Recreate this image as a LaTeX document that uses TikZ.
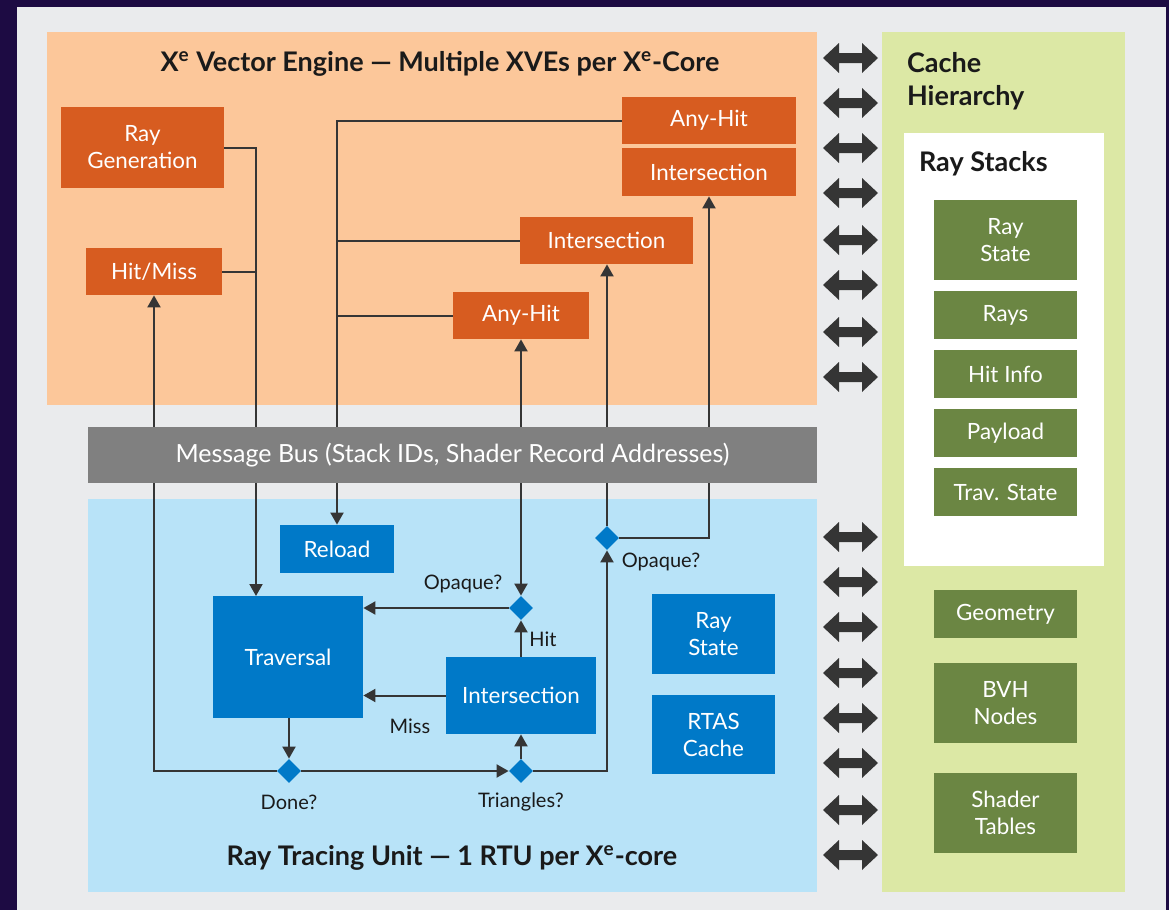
\documentclass[tikz,border=0pt]{standalone}
\usepackage{fontspec}
\setmainfont{Lato}
\usepackage{tikz}
\usetikzlibrary{arrows.meta,shapes.geometric}
\definecolor{Frame}{HTML}{1D0B43}
\definecolor{Canvas}{HTML}{EAEBED}
\definecolor{Ink}{HTML}{1A1A1A}
\definecolor{Wire}{HTML}{353535}
\definecolor{OrangeSoft}{HTML}{FCC79A}
\definecolor{Orange}{HTML}{D75C20}
\definecolor{BlueSoft}{HTML}{B8E3F8}
\definecolor{Blue}{HTML}{0079C8}
\definecolor{GreenSoft}{HTML}{DCE8A5}
\definecolor{Green}{HTML}{6B8643}
\definecolor{Bus}{HTML}{808080}
\tikzset{
  box/.style={inner sep=2pt,align=center,text=white,font=\fontsize{11.2}{13.5}\selectfont},
  boxorange/.style={box,fill=Orange},
  boxblue/.style={box,fill=Blue},
  boxgreen/.style={box,fill=Green,minimum width=71.5pt},
  decision/.style={diamond,fill=Blue,inner sep=0pt,minimum size=12pt},
  wire/.style={draw=Wire,line width=1pt},
  arrow/.style={wire,-{Triangle[length=6pt,width=6.5pt]}},
  twoway/.style={wire,{Triangle[length=6pt,width=6.5pt]}-{Triangle[length=6pt,width=6.5pt]}},
  note/.style={text=Ink,font=\fontsize{10}{12}\selectfont},
  heading/.style={text=Ink,font=\fontsize{13.5}{16.5}\selectfont\bfseries},
  bigarrow/.style={fill=Wire}
}

\begin{document}
\begin{tikzpicture}[x=0.5pt,y=-0.5pt]
  \useasboundingbox (0,0) rectangle (1169,910);
  \fill[Frame] (0,0) rectangle (1169,910);
  \fill[Canvas] (17,7) rectangle (1166,910);
  % panels
  \fill[OrangeSoft] (47,32) rectangle (817,405);
  \fill[BlueSoft] (88,499) rectangle (817,892);
  \fill[GreenSoft] (882,32) rectangle (1125,892);
  \fill[white] (904,133) rectangle (1104,566);
  \node[heading] (xveTitle) at (440,64) {X\textsuperscript{e} Vector Engine — Multiple XVEs per X\textsuperscript{e}-Core};
  \node[heading] (rtuTitle) at (452,858) {Ray Tracing Unit — 1 RTU per X\textsuperscript{e}-core};
  \node[heading,anchor=west,align=left] (cacheTitle) at (900,81) {Cache\\Hierarchy};
  \node[heading,anchor=west] (stackTitle) at (912,164) {Ray Stacks};

  % vector engine shaders
  \node[boxorange,minimum width=81.5pt,minimum height=40.5pt] (rayGen) at (142.5,147.5) {Ray\\Generation};
  \node[boxorange,minimum width=68pt,minimum height=23.5pt] (hitMiss) at (154,271.5) {Hit/Miss};
  \node[boxorange,minimum width=87pt,minimum height=23.5pt] (anyHitA) at (709,120.5) {Any-Hit};
  \node[boxorange,minimum width=87pt,minimum height=24pt] (isectA) at (709,172) {Intersection};
  \node[boxorange,minimum width=86.5pt,minimum height=23.5pt] (isectB) at (606.5,240.5) {Intersection};
  \node[boxorange,minimum width=68pt,minimum height=23.5pt] (anyHitB) at (521,315.5) {Any-Hit};

  % ray tracing unit
  \node[boxblue,minimum width=57pt,minimum height=24pt] (reload) at (337,549) {Reload};
  \node[boxblue,minimum width=75pt,minimum height=61pt] (trav) at (288,657) {Traversal};
  \node[boxblue,minimum width=75pt,minimum height=38.5pt] (isectC) at (521,695.5) {Intersection};
  \node[boxblue,minimum width=61.5pt,minimum height=40pt] (rayState) at (713.5,634) {Ray\\State};
  \node[boxblue,minimum width=61.5pt,minimum height=39.5pt] (rtas) at (713.5,734.5) {RTAS\\Cache};
  \node[decision] (done) at (289,771) {};
  \node[decision] (tri) at (521,771) {};
  \node[decision] (opaqueA) at (521,608) {};
  \node[decision] (opaqueB) at (607,538) {};
  \node[note] (doneTxt) at (289,802) {Done?};
  \node[note] (triTxt) at (521,802) {Triangles?};
  \node[note] (opaqueATxt) at (463,584) {Opaque?};
  \node[note] (opaqueBTxt) at (661,562) {Opaque?};
  \node[note] (hitTxt) at (543,639) {Hit};
  \node[note] (missTxt) at (410,726) {Miss};

  % cache hierarchy
  \node[boxgreen,minimum height=40pt] (gRayState) at (1005.5,240) {Ray\\State};
  \node[boxgreen,minimum height=24pt] (gRays) at (1005.5,315) {Rays};
  \node[boxgreen,minimum height=24pt] (gHitInfo) at (1005.5,374) {Hit Info};
  \node[boxgreen,minimum height=24pt] (gPayload) at (1005.5,433) {Payload};
  \node[boxgreen,minimum height=24pt] (gTrav) at (1005.5,492) {Trav. State};
  \node[boxgreen,minimum height=24pt] (gGeo) at (1005.5,614) {Geometry};
  \node[boxgreen,minimum height=40pt] (gBvh) at (1005.5,703) {BVH\\Nodes};
  \node[boxgreen,minimum height=40pt] (gShader) at (1005.5,813) {Shader\\Tables};

  % connectors
  \coordinate (travIn) at (256,596);
  \draw[arrow] (rayGen.east) -| (travIn);
  \draw[wire] (hitMiss.east) -- (hitMiss.east -| travIn);
  \draw[arrow] (anyHitA.west) -| (reload.north);
  \draw[wire] (isectB.west) -- (isectB.west -| reload.north);
  \draw[wire] (anyHitB.west) -- (anyHitB.west -| reload.north);
  \draw[arrow] (done.west) -| (hitMiss.south);
  \draw[arrow] (done.east) -- (tri.west);
  \draw[arrow] (trav.south -| done.north) -- (done.north);
  \draw[arrow] (tri.north) -- (isectC.south);
  \draw[arrow] (isectC.north) -- (opaqueA.south);
  \draw[arrow] (opaqueA.west) -- (opaqueA.west -| trav.east);
  \draw[arrow] (isectC.west) -- (isectC.west -| trav.east);
  \draw[twoway] (anyHitB.south) -- (opaqueA.north);
  \draw[arrow] (tri.east) -| (opaqueB.south);
  \draw[arrow] (opaqueB.north) -- (opaqueB.north |- isectB.south);
  \draw[arrow] (opaqueB.east) -| (isectA.south);

  % message bus over the wires
  \node[fill=Bus,text=white,minimum width=364.5pt,minimum height=28pt,inner sep=0pt,font=\fontsize{12.5}{15}\selectfont] (bus) at (452.5,455) {Message Bus (Stack IDs, Shader Record Addresses)};

  % links to the cache
  \foreach \y in {58,103,148,193,240,285,332,377,537,582,627,673,718,763,810,855}
    \fill[bigarrow,shift={(850.5,\y)}] (-27.5,0) -- (-11.5,-15) -- (-11.5,-5) -- (11.5,-5) -- (11.5,-15)
      -- (27.5,0) -- (11.5,15) -- (11.5,5) -- (-11.5,5) -- (-11.5,15) -- cycle;
\end{tikzpicture}
\end{document}
